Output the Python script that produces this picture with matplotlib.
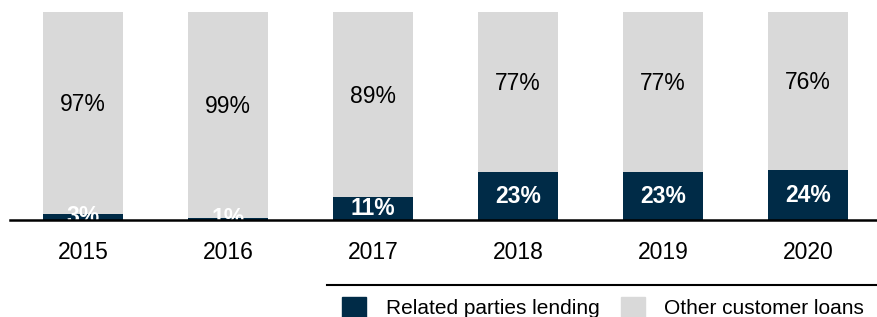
import matplotlib.pyplot as plt
from matplotlib.patches import Patch
from matplotlib.lines import Line2D
import numpy as np

plt.rcParams['font.family'] = ['Liberation Sans', 'DejaVu Sans']

# data (% of customer loans)
years = ['2015', '2016', '2017', '2018', '2019', '2020']
related = [3, 1, 11, 23, 23, 24]
other = [97, 99, 89, 77, 77, 76]

dark = '#002b47'
grey = '#d9d9d9'

fig = plt.figure(figsize=(8.77, 3.17), dpi=100)
ax = fig.add_axes([10 / 877, 97 / 317, 867 / 877, 208 / 317])

x = np.arange(len(years))
w = 0.555
ax.bar(x, related, w, color=dark, zorder=2)
ax.bar(x, other, w, bottom=related, color=grey, zorder=2)

for i in range(len(years)):
    t = ax.text(x[i], related[i] / 2, f'{related[i]}%', ha='center', va='center',
                color='white', fontsize=16.5, fontweight='bold', zorder=3)
    t.set_clip_on(True)
    ax.text(x[i], related[i] + other[i] / 2 + 4, f'{other[i]}%', ha='center',
            va='center', color='black', fontsize=16.5, zorder=3)

ax.set_xlim(-0.503, 5.476)
ax.set_ylim(0, 100)
ax.set_xticks(x)
ax.set_xticklabels(years, fontsize=16.5)
ax.tick_params(axis='x', length=0, pad=15)
ax.set_yticks([])
for s in ['top', 'right', 'left']:
    ax.spines[s].set_visible(False)
ax.spines['bottom'].set_linewidth(1.8)
ax.spines['bottom'].set_zorder(4)

# separator line above legend
fig.add_artist(Line2D([327 / 877, 1], [1 - 285 / 317, 1 - 285 / 317],
                      color='black', lw=1.5))

handles = [Patch(color=dark, label='Related parties lending'),
           Patch(color=grey, label='Other customer loans')]
fig.legend(handles=handles, ncol=2, loc='lower right', bbox_to_anchor=(1.002, -0.05),
           frameon=False, fontsize=15, handlelength=1.15, handleheight=1.2,
           handletextpad=0.95, columnspacing=1.0, borderaxespad=0.3)

fig.savefig('out.png', dpi=100)
